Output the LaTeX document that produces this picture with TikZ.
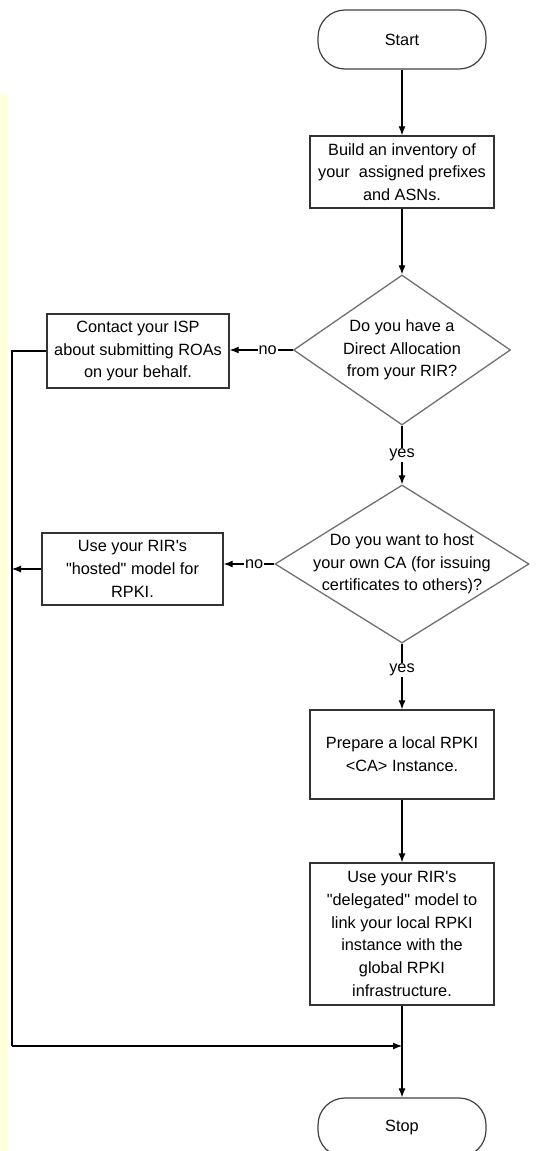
\documentclass[tikz,border=0pt]{standalone}
\usepackage{fontspec}
\setmainfont{Liberation Sans}[Ligatures=TeXOff]
\usetikzlibrary{shapes.geometric,arrows.meta}
\definecolor{stripyellow}{RGB}{255,255,216}
\definecolor{shapegray}{RGB}{112,112,112}

\begin{document}
\begin{tikzpicture}[x=1pt,y=-1pt,
    every node/.style={font=\fontsize{16.3}{22.7}\selectfont,align=center,inner sep=0pt},
    terminal/.style={rectangle,rounded corners=27pt,draw=black!75,line width=1.2pt,
      minimum width=168pt,minimum height=59pt},
    process/.style={rectangle,draw=black!80,line width=1.4pt,minimum width=184pt},
    decision/.style={diamond,draw=shapegray,line width=1.3pt},
    answer/.style={fill=white,inner sep=1pt},
    arrow/.style={-{Latex[length=9pt,width=7pt]},line width=1.1pt}]
    \useasboundingbox (0,0) rectangle (554,1151);
    % Margin strip
    \fill[stripyellow] (0,95) rectangle (8,1151);

    % Main column
    \node[terminal] (start) at (402,39.5) {Start};
    \node[process,minimum height=72pt] (build) at (402,172)
      {Build an inventory of\\your \ assigned prefixes\\and ASNs.};
    \node[decision,minimum width=217pt,minimum height=150pt] (q1) at (402,350) {};
    \node (q1txt) at (q1) {Do you have a\\Direct Allocation\\from your RIR?};
    \node[decision,minimum width=254pt,minimum height=158pt] (q2) at (402,564) {};
    \node (q2txt) at (q2) {Do you want to host\\your own CA (for issuing\\certificates to others)?};
    \node[process,minimum height=89pt] (prepare) at (402,754.5)
      {Prepare a local RPKI\\<CA> Instance.};
    \node[process,minimum height=142pt] (deleg) at (402,934)
      {Use your RIR's\\"delegated" model to\\link your local RPKI\\instance with the\\global RPKI\\infrastructure.};
    \node[terminal] (stop) at (402,1127.5) {Stop};

    % Side branches
    \node[process,minimum width=182pt,minimum height=74pt] (contact) at (138,351)
      {Contact your ISP\\about submitting ROAs\\on your behalf.};
    \node[process,minimum width=181pt,minimum height=72pt] (hosted) at (132.5,569)
      {Use your RIR's\\"hosted" model for\\RPKI.};

    % Rail back to Stop
    \coordinate (railtop) at (12,351);
    \coordinate (railbot) at (12,1046);
    \coordinate (merge) at (402,1046);

    \foreach \a/\b in {start/build,build/q1,prepare/deleg,deleg/stop}
      \draw[arrow] (\a) -- (\b);
    \draw[arrow] (q1.south) -- node[answer]{yes} (q2.north);
    \draw[arrow] (q2.south) -- node[answer,pos=0.4]{yes} (prepare.north);
    \draw[arrow] (q1.west) -- node[answer,pos=0.4]{no} (q1.west -| contact.east);
    \draw[arrow] (q2.west) -- node[answer,pos=0.4]{no} (q2.west -| hosted.east);
    \draw[line width=1.1pt] (contact.west) -- (railtop) -- (railbot);
    \draw[arrow] (railbot) -- (merge);
    \draw[arrow] (hosted.west) -- (hosted.west -| railtop);
  \end{tikzpicture}
\end{document}
